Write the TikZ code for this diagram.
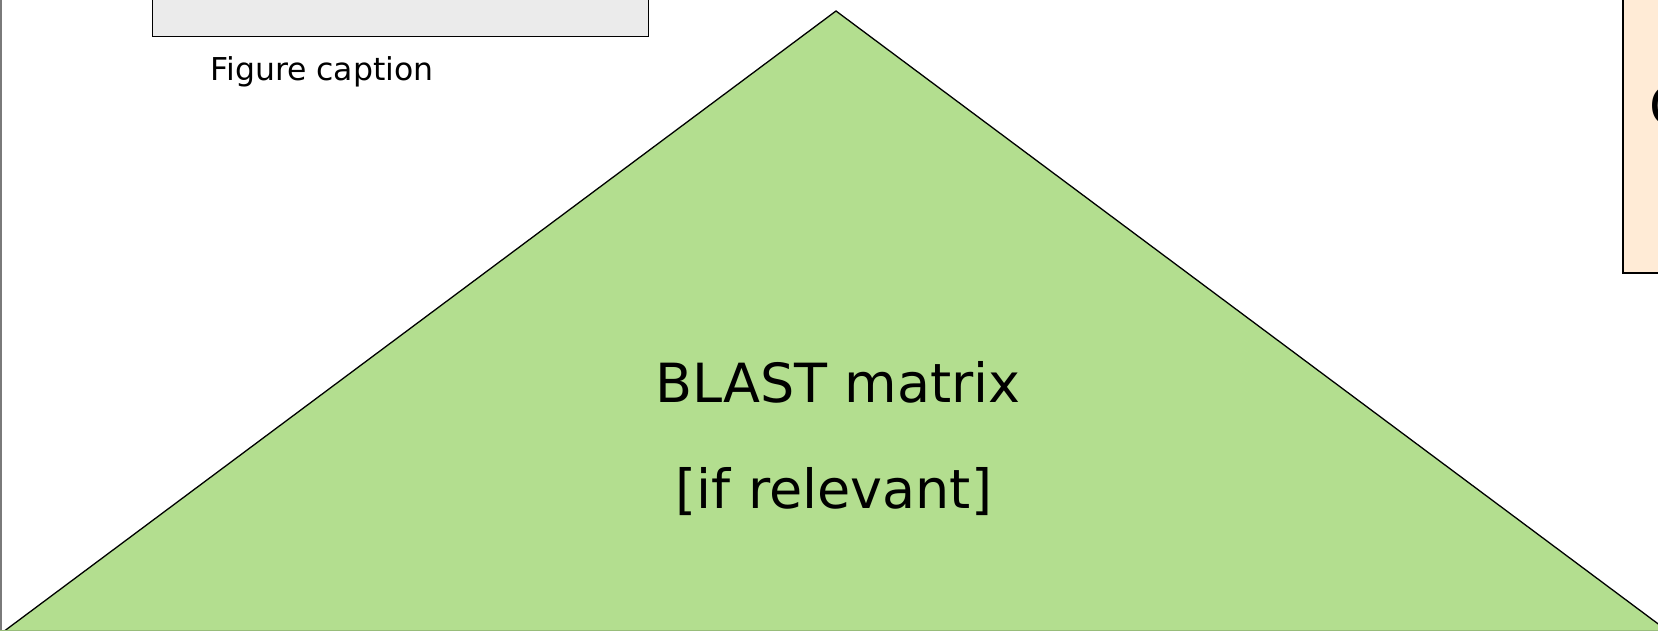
\documentclass[tikz,border=0pt]{standalone}
\usepackage{fontspec}
\setmainfont{DejaVu Sans}
\definecolor{tri}{HTML}{B3DE8F}
\definecolor{greybox}{HTML}{EBEBEB}
\definecolor{orangebox}{HTML}{FFEBD6}
\definecolor{edgegrey}{HTML}{7A7A7A}
\tikzset{
  px/.style={x=1pt,y=-1pt},
  bigtext/.style={font=\fontsize{54}{60}\selectfont, inner sep=0pt, anchor=base},
  captext/.style={font=\fontsize{31.5}{36}\selectfont, inner sep=0pt, anchor=base}
}
\begin{document}
\begin{tikzpicture}[px]
\useasboundingbox (0,0) rectangle (1658,631);
\clip (0,0) rectangle (1658,631);
\fill[white] (0,0) rectangle (1658,631);
% left frame edge
\draw[edgegrey, line width=1.5pt] (1,-5) -- (1,640);
% grey figure box
\node[draw=black, fill=greybox, line width=1.3pt, minimum width=496pt, minimum height=80pt, inner sep=0pt, anchor=south west] (figbox) at (152,37) {};
\node[captext] (cap) at (322,81) {Figure caption};
% triangle
\coordinate (apex) at (836,11);
\coordinate (bl) at (3,632);
\coordinate (br) at (1669,632);
\fill[tri] (apex) -- (bl) -- (br) -- cycle;
\draw[black, line width=1.3pt] (bl) -- (apex) -- (br);
\draw[tri!85!black, line width=1pt] (0,630.5) -- (1658,630.5);
\node[bigtext] (blast) at (838,402) {BLAST matrix};
\node[bigtext] (rel) at (834,508) {[if relevant]};
% orange box on the right
\node[draw=black, fill=orangebox, line width=2pt, minimum width=120pt, minimum height=300pt, inner sep=0pt, anchor=south west] (obox) at (1622,274) {};
\node[bigtext, anchor=base west] (otext) at (1649,126) {C};
\end{tikzpicture}
\end{document}
